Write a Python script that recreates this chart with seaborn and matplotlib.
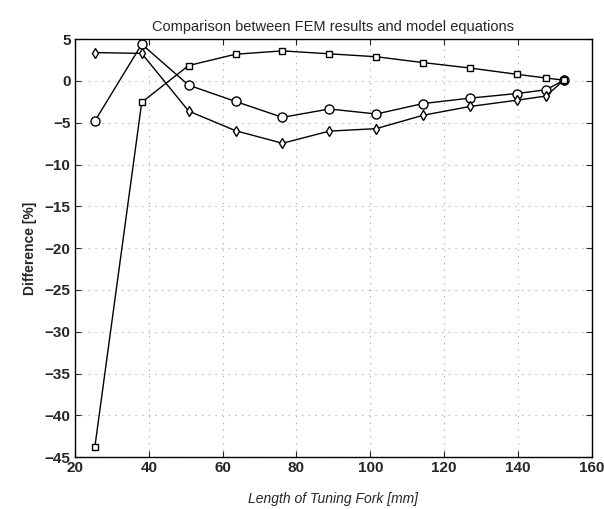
import numpy as np
import pandas as pd
import matplotlib
matplotlib.use('Agg')
import matplotlib.pyplot as plt
import seaborn as sns

# fork lengths [mm]
length_mm = [25.4, 38.1, 50.8, 63.5, 76.2, 88.9, 101.6, 114.3, 127.0, 139.7, 147.6, 152.4]

# difference between FEM and model equations [%]
diff_circle = [-4.8, 4.4, -0.5, -2.45, -4.35, -3.35, -3.95, -2.7, -2.05, -1.5, -1.05, 0.1]
diff_diamond = [3.4, 3.3, -3.6, -5.95, -7.45, -6.0, -5.7, -4.1, -3.05, -2.3, -1.8, 0.1]
diff_square = [-43.8, -2.55, 1.85, 3.2, 3.6, 3.25, 2.9, 2.2, 1.55, 0.8, 0.35, 0.1]

x_ticks = [20, 40, 60, 80, 100, 120, 140, 160]
y_ticks = [5, 0, -5, -10, -15, -20, -25, -30, -35, -40, -45]

sns.set_style('ticks')
plt.rcParams['font.family'] = ['Liberation Sans', 'DejaVu Sans']
plt.rcParams['xtick.direction'] = 'in'
plt.rcParams['ytick.direction'] = 'in'

fig = plt.figure(figsize=(6.04, 5.09), dpi=100)
ax = fig.add_axes([0.124, 0.102, 0.856, 0.821])

# marker, values, size
series = [('o', diff_circle, 6.5), ('d', diff_diamond, 5.5), ('s', diff_square, 5)]
for mk, vals, ms in series:
    df = pd.DataFrame({'length': length_mm, 'diff': vals})
    sns.lineplot(data=df, x='length', y='diff', ax=ax, color='black', linewidth=1.0,
                 marker=mk, markersize=ms, markerfacecolor='white',
                 markeredgecolor='black', markeredgewidth=1.0)

ax.set_xlim(20, 160)
ax.set_ylim(-45, 5)
ax.set_xticks(x_ticks)
ax.set_yticks(y_ticks)
ax.tick_params(top=True, right=True, length=4, width=0.8, labelsize=11, pad=3)
for lbl in ax.get_xticklabels() + ax.get_yticklabels():
    lbl.set_fontweight('bold')
ax.grid(True, linestyle=(0, (1, 5)), color='#a0a0a0', linewidth=0.8)
for sp in ax.spines.values():
    sp.set_linewidth(1.0)
    sp.set_color('black')

ax.set_title('Comparison between FEM results and model equations', fontsize=10.5, pad=6)
ax.set_xlabel('Length of Tuning Fork [mm]', fontsize=10, fontstyle='italic', labelpad=12)
ax.set_ylabel('Difference [%]', fontsize=10, fontweight='bold', labelpad=6)

fig.savefig('out.png', dpi=100)
